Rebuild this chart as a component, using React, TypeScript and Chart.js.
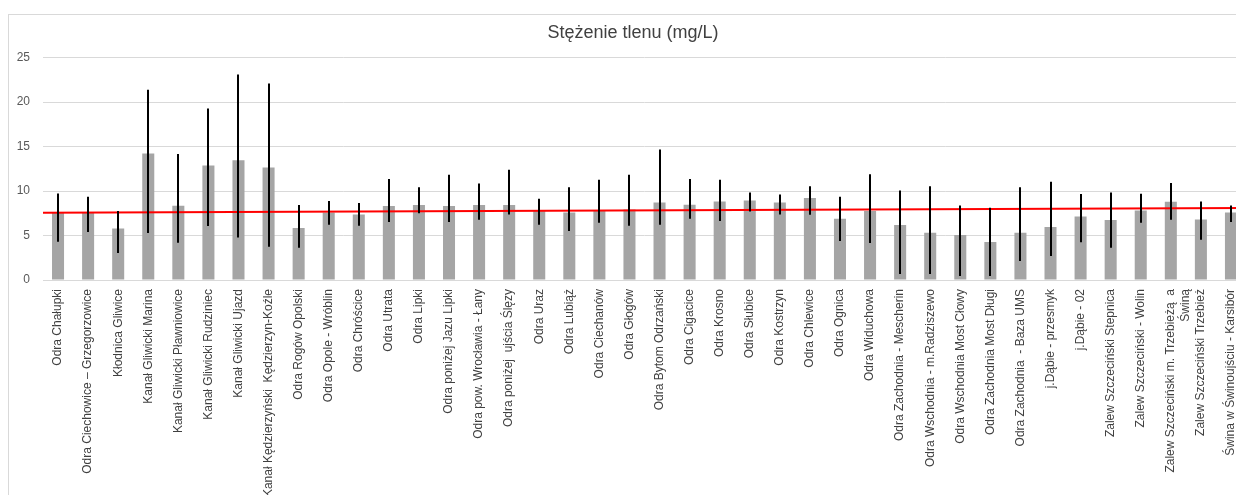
import { useEffect, useRef } from "react";
import { Chart, registerables } from "chart.js";

Chart.register(...registerables);

const chartTitle = "Stężenie tlenu (mg/L)";

const categories: (string | string[])[] = [
  "Odra Chałupki",
  "Odra Ciechowice – Grzegorzowice",
  "Kłodnica Gliwice",
  "Kanał Gliwicki Marina",
  "Kanał Gliwicki Pławniowice",
  "Kanał Gliwicki Rudziniec",
  "Kanał Gliwicki Ujazd",
  "Kanał Kędzierzyński  Kędzierzyn-Koźle",
  "Odra Rogów Opolski",
  "Odra Opole - Wróblin",
  "Odra Chróścice",
  "Odra Utrata",
  "Odra Lipki",
  "Odra poniżej Jazu Lipki",
  "Odra pow. Wrocławia - Łany",
  "Odra poniżej  ujścia Ślęzy",
  "Odra Uraz",
  "Odra Lubiąż",
  "Odra Ciechanów",
  "Odra Głogów",
  "Odra Bytom Odrzański",
  "Odra Cigacice",
  "Odra Krosno",
  "Odra Słubice",
  "Odra Kostrzyn",
  "Odra Chlewice",
  "Odra Ognica",
  "Odra Widuchowa",
  "Odra Zachodnia - Mescherin",
  "Odra Wschodnia - m.Radziszewo",
  "Odra Wschodnia Most Cłowy",
  "Odra Zachodnia Most Długi",
  "Odra Zachodnia  - Baza UMS",
  "j.Dąbie - przesmyk",
  "j.Dąbie - 02",
  "Zalew Szczeciński Stepnica",
  "Zalew Szczeciński - Wolin",
  ["Zalew Szczeciński m. Trzebieżą  a", "Świną"],
  "Zalew Szczeciński Trzebież",
  "Świna w Świnoujściu - Karsibór",
];

const meanValues = [
  7.6, 7.6, 5.8, 14.22, 8.35, 12.87, 13.47, 12.65, 5.84, 7.6,
  7.37, 8.31, 8.42, 8.31, 8.42, 8.42, 7.82, 7.6, 7.82, 7.93,
  8.72, 8.46, 8.83, 8.94, 8.72, 9.21, 6.89, 7.75, 6.18, 5.31,
  5.05, 4.27, 5.31, 5.95, 7.15, 6.74, 7.82, 8.79, 6.81, 7.6,
];

const lowValues = [
  4.3, 5.39, 3.03, 5.28, 4.19, 6.06, 4.79, 3.74, 3.63, 6.21,
  6.1, 6.51, 7.49, 6.51, 6.77, 7.37, 6.21, 5.5, 6.44, 6.1,
  6.21, 6.89, 6.62, 7.71, 7.37, 7.34, 4.38, 4.15, 0.67, 0.67,
  0.45, 0.45, 2.13, 2.69, 4.23, 3.63, 6.44, 6.77, 4.53, 6.51,
];

const highValues = [
  9.73, 9.36, 7.75, 21.4, 14.15, 19.27, 23.09, 22.1, 8.42, 8.87,
  8.65, 11.34, 10.44, 11.83, 10.85, 12.39, 9.13, 10.44, 11.26, 11.83,
  14.67, 11.34, 11.26, 9.84, 9.62, 10.55, 9.36, 11.9, 10.07, 10.55,
  8.38, 8.12, 10.44, 11.04, 9.66, 9.84, 9.69, 10.89, 8.83, 8.38,
];

// linear trend line: value at the left and right edge of the plot
const trendStart = 7.55;
const trendEnd = 8.08;

const yMin = 0;
const yMax = 25;
const yStep = 5;

const FONT = "'Liberation Sans', Arial, sans-serif";

const overlayPlugin = {
  id: "errorBarsAndTrend",
  afterDatasetsDraw(chart: any) {
    const meta = chart.getDatasetMeta(0);
    const yScale = chart.scales.y;
    const area = chart.chartArea;
    const ctx = chart.ctx;
    ctx.save();
    // trend line
    ctx.strokeStyle = "#ff0000";
    ctx.lineWidth = 2;
    ctx.beginPath();
    ctx.moveTo(area.left, yScale.getPixelForValue(trendStart));
    ctx.lineTo(area.right, yScale.getPixelForValue(trendEnd));
    ctx.stroke();
    // error bars
    ctx.strokeStyle = "#000000";
    ctx.lineWidth = 2;
    meta.data.forEach((bar: any, i: number) => {
      const x = Math.round(bar.x);
      const yLow = yScale.getPixelForValue(lowValues[i]);
      const yHigh = yScale.getPixelForValue(highValues[i]);
      ctx.beginPath();
      ctx.moveTo(x, yLow);
      ctx.lineTo(x, yHigh);
      ctx.stroke();
    });
    ctx.restore();
  },
};

export default function App() {
  const canvasRef = useRef<HTMLCanvasElement | null>(null);

  useEffect(() => {
    if (!canvasRef.current) return;
    const chart = new Chart(canvasRef.current, {
      type: "bar",
      data: {
        labels: categories,
        datasets: [
          {
            data: meanValues,
            backgroundColor: "#a5a5a5",
            borderWidth: 0,
            barPercentage: 0.4,
            categoryPercentage: 1,
            grouped: false,
          },
        ],
      },
      options: {
        animation: false,
        responsive: true,
        maintainAspectRatio: false,
        layout: { padding: 0 },
        plugins: {
          legend: { display: false },
          tooltip: { enabled: false },
          title: {
            display: true,
            text: chartTitle,
            color: "#404040",
            font: { family: FONT, size: 18, weight: "normal" },
            padding: { top: 7, bottom: 14 },
          },
        },
        scales: {
          x: {
            type: "category",
            grid: { display: false, drawTicks: false },
            border: { display: true, color: "#d9d9d9", width: 1 },
            ticks: {
              autoSkip: false,
              maxRotation: 90,
              minRotation: 90,
              padding: 9,
              color: "#404040",
              font: { family: FONT, size: 12 },
            },
            afterFit: (scale: any) => {
              scale.height = 233;
            },
          },
          y: {
            position: "left",
            min: yMin,
            max: yMax,
            ticks: {
              stepSize: yStep,
              padding: 13,
              color: "#595959",
              font: { family: FONT, size: 12 },
            },
            grid: { color: "#d9d9d9", drawTicks: false, lineWidth: 1 },
            border: { display: false },
            afterFit: (scale: any) => {
              scale.width = 34;
            },
          },
          yRight: {
            type: "linear",
            position: "right",
            display: true,
            min: yMin,
            max: yMax,
            ticks: { display: false },
            grid: { display: false, drawTicks: false },
            border: { display: false },
            afterFit: (scale: any) => {
              scale.width = 11;
            },
          },
        },
      },
      plugins: [overlayPlugin],
    });
    return () => chart.destroy();
  }, []);

  return (
    <div style={{ width: 1236, height: 487, overflow: "hidden" }}>
      <div
        style={{
          marginTop: 6,
          width: 1250,
          height: 500,
          border: "1px solid #d9d9d9",
          boxSizing: "border-box",
          position: "relative",
          background: "#ffffff",
        }}
      >
        <canvas ref={canvasRef} />
      </div>
    </div>
  );
}
